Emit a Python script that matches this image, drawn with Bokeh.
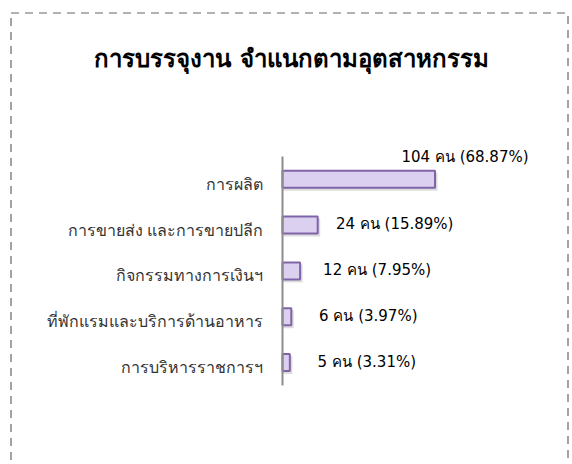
from bokeh.plotting import figure
from bokeh.models import ColumnDataSource, Range1d, BoxAnnotation, Label
from bokeh.embed import file_html
from bokeh.resources import INLINE
from bokeh.core.properties import value

title_text = "การบรรจุงาน จำแนกตามอุตสาหกรรม"
categories = ["การผลิต", "การขายส่ง และการขายปลีก", "กิจกรรมทางการเงินฯ",
              "ที่พักแรมและบริการด้านอาหาร", "การบริหารราชการฯ"]
counts = [104, 24, 12, 6, 5]
percents = [68.87, 15.89, 7.95, 3.97, 3.31]

W, H = 570, 464
# pixel geometry of the canvas
SX = 152.5 / 104.0          # px per person
AXIS_PX = 282.0             # canvas x of the zero line
SY = 45.8                   # px per category step
ROW0_PX = 178.8             # canvas y of first bar centre

x0 = -AXIS_PX / SX
x1 = x0 + W / SX
y_top = -ROW0_PX / SY
y_bot = y_top + H / SY

def dx(px):
    return x0 + px / SX

def dy(py):
    return y_top + py / SY

n = len(categories)
ypos = list(range(n))
labels = [f"{c} คน ({p:.2f}%)" for c, p in zip(counts, percents)]
lab_x_off = [30 if i == 0 else 77 for i in range(n)]
lab_y_off = [-22 if i == 0 else -1 for i in range(n)]

src = ColumnDataSource(dict(y=ypos, cat=categories, cnt=counts, lab=labels,
                            xo=lab_x_off, yo=lab_y_off,
                            ysh=[v + 2.5 / SY for v in ypos],
                            rsh=[c + 2.5 / SX for c in counts]))

p = figure(width=W, height=H, output_backend="svg", toolbar_location=None,
           x_range=Range1d(x0, x1), y_range=Range1d(y_bot, y_top),
           min_border=0)
p.axis.visible = False
p.grid.visible = False
p.outline_line_color = None
p.background_fill_color = "white"
p.border_fill_color = "white"

# dashed border around the chart area
p.add_layout(BoxAnnotation(left=dx(10.5), right=dx(567.5), top=dy(12.5), bottom=dy(H + 20),
                           fill_alpha=0, line_color="#666666", line_alpha=1.0,
                           line_width=1.2, line_dash="8 6"))

# shadow
p.hbar(y="ysh", left=0, right="rsh", height=18 / SY, source=src,
       fill_color="#9a9a9a", fill_alpha=0.35, line_color=None)
# bars
p.hbar(y="y", left=0, right="cnt", height=17 / SY, source=src,
       fill_color="#dcd0f0", line_color="#8064a8", line_width=2)

# axis line
p.segment(x0=[0], y0=[-0.5], x1=[0], y1=[n - 0.5], line_color="#8c8c8c", line_width=2)

# category labels
p.text(x=0, y="y", text="cat", source=src, x_offset=-20, y_offset=5,
       text_align="right", text_baseline="middle",
       text_font=value("Tahoma"), text_font_size="16px", text_color="#333333")

# value labels
p.text(x="cnt", y="y", text="lab", source=src, x_offset="xo", y_offset="yo",
       text_align="center", text_baseline="middle",
       text_font=value("DejaVu Sans"), text_font_size="15px", text_color="#000000")

p.add_layout(Label(x=dx(291), y=dy(58), text=title_text, text_align="center",
                   text_baseline="middle", text_font="DejaVu Sans",
                   text_font_size="24px", text_font_style="bold", text_color="#000000"))

open("out.html", "w").write(file_html(p, INLINE))
